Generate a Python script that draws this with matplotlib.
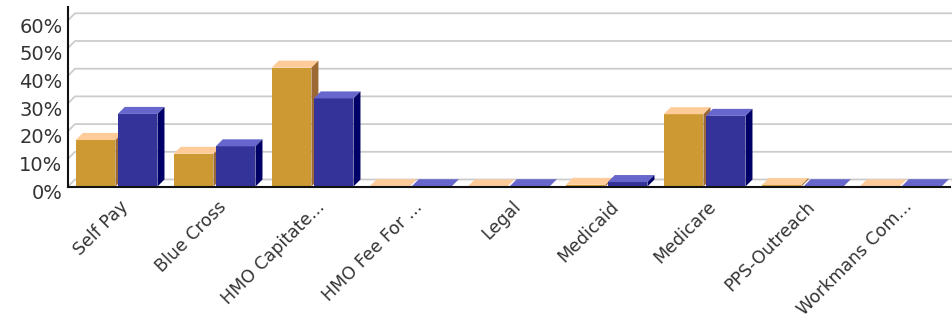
"""
Payer mix bar chart, two series drawn as pseudo-3D bars
(front face + lighter top face + darker side face).
"""
import matplotlib
matplotlib.use("Agg")
import matplotlib.pyplot as plt
from matplotlib.patches import Polygon
from matplotlib.transforms import ScaledTranslation

# data (percent)
categories = ["Self Pay", "Blue Cross", "HMO Capitate...", "HMO Fee For ...", "Legal",
              "Medicaid", "Medicare", "PPS-Outreach", "Workmans Com..."]
gold_values = [16.8, 11.8, 42.9, 0.1, 0.0, 0.6, 26.1, 0.5, 0.0]
blue_values = [26.2, 14.5, 31.8, 0.1, 0.1, 1.6, 25.5, 0.1, 0.1]
y_ticks = [0, 10, 20, 30, 40, 50, 60]

GOLD = {"front": "#cc9933", "top": "#ffcc99", "side": "#9c6833"}
BLUE = {"front": "#333399", "top": "#6666cc", "side": "#000066"}
TEXT = "#333333"

# geometry (data units): slot width 1 category, depth of the 3D faces
BAR_W = 0.405
PITCH = 0.429
FIRST = -0.421
DX = 0.0714
DY = 2.53


def bar3d(ax, x, h, colors, z):
    ax.bar(x, h, width=BAR_W, align="edge", color=colors["front"], lw=0, zorder=z)
    top = [(x, h), (x + BAR_W, h), (x + BAR_W + DX, h + DY), (x + DX, h + DY)]
    side = [(x + BAR_W, 0), (x + BAR_W + DX, DY), (x + BAR_W + DX, h + DY), (x + BAR_W, h)]
    ax.add_patch(Polygon(top, closed=True, color=colors["top"], lw=0, zorder=z, clip_on=False))
    ax.add_patch(Polygon(side, closed=True, color=colors["side"], lw=0, zorder=z, clip_on=False))


fig = plt.figure(figsize=(9.52, 3.21), dpi=100)
ax = fig.add_axes([68 / 952, 1 - 186.5 / 321, (950 - 68) / 952, (186.5 - 7) / 321])
ax.set_xlim(-0.5, len(categories) - 0.5)
ax.set_ylim(0, 179.5 / 2.77)

# back-wall gridlines with the little slant from the axis
for v in y_ticks:
    ax.plot([-0.5, -0.5 + DX, len(categories) - 0.5 + DX], [v, v + DY, v + DY],
            color="#cccccc", lw=1.3, zorder=1, clip_on=False)

for i in range(len(categories)):
    bar3d(ax, i + FIRST, gold_values[i], GOLD, 3)
    bar3d(ax, i + FIRST + PITCH, blue_values[i], BLUE, 4)

for s in ["top", "right"]:
    ax.spines[s].set_visible(False)
for s in ["left", "bottom"]:
    ax.spines[s].set_color("#111111")
    ax.spines[s].set_linewidth(1.5)
    ax.spines[s].set_zorder(6)

ax.set_yticks(y_ticks)
ax.set_yticklabels([f"{v}%" for v in y_ticks], fontsize=14, color=TEXT)
ax.tick_params(axis="y", length=0, pad=4)
for lab in ax.get_yticklabels():
    lab.set_transform(lab.get_transform() + ScaledTranslation(0, -3.5 / 72, fig.dpi_scale_trans))

ax.set_xticks(range(len(categories)))
ax.set_xticklabels(categories, rotation=45, ha="right", va="top", fontsize=12.5, color=TEXT)
ax.tick_params(axis="x", length=0, pad=8)
for lab in ax.get_xticklabels():
    lab.set_transform(lab.get_transform() + ScaledTranslation(15 / 100, 0, fig.dpi_scale_trans))

fig.savefig("out.png", dpi=100)
